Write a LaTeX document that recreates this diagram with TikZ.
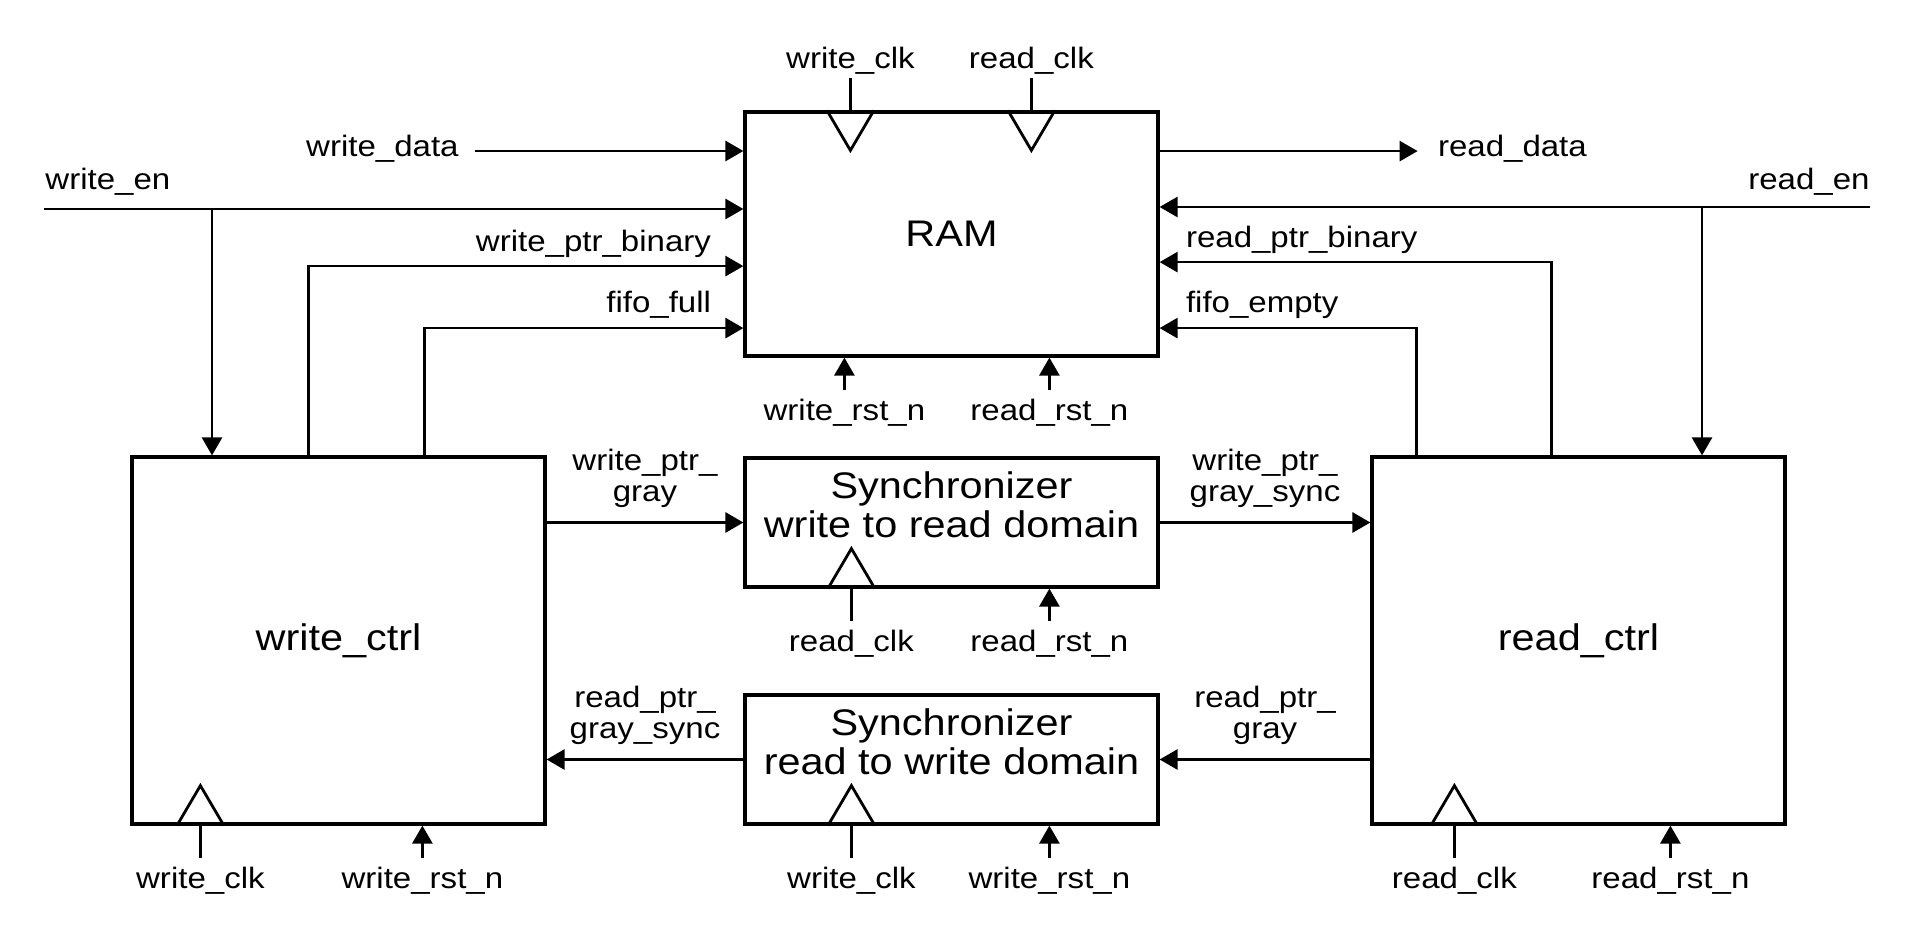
\documentclass[tikz,border=0pt]{standalone}
\usepackage{fontspec}
\setmainfont[FakeStretch=1.12]{Liberation Sans}
\usetikzlibrary{arrows.meta, positioning, calc}
\newcommand{\lblfont}{\fontsize{14.75}{15.5}\selectfont}
\newcommand{\boxfont}{\fontsize{18.5}{19.5}\selectfont}
\tikzset{
  >={Triangle[length=9pt, width=10pt]},
  block/.style   = {draw, line width=1.6pt, minimum width=206.5pt,
                    inner sep=0pt, font=\boxfont},
  boxtext/.style = {font=\boxfont, align=center, inner sep=0pt},
  lbl/.style     = {font=\lblfont, inner sep=0pt},
  lbl2/.style    = {lbl, align=center},
  wire/.style    = {line width=1.4pt},
  arrow/.style   = {->, line width=1.4pt},
  clk/.style     = {line width=1.4pt, line join=miter},
}

\begin{document}
\begin{tikzpicture}[x=0.5pt, y=0.5pt]
  \useasboundingbox (0,0) rectangle (1927,928);

  % =====================================================================
  % blocks
  % =====================================================================
  \node[block, minimum height=122pt]  (ram)   at (951.5,694)   {RAM};
  \node[block, minimum height=64.5pt] (sync1) at (951.5,405.5) {};
  \node[block, minimum height=64.5pt] (sync2) at (951.5,168.5) {};
  \node[block, minimum height=183.5pt] (wctrl) at (338.5,287.5) {write\_ctrl};
  \node[block, minimum height=183.5pt] (rctrl) at (1578.5,287.5) {read\_ctrl};

  \node[boxtext] (sync1txt) at ($(sync1.center)+(0,17.5)$)
    {Synchronizer\\write to read domain};
  \node[boxtext] (sync2txt) at ($(sync2.center)+(0,17.5)$)
    {Synchronizer\\read to write domain};

  % =====================================================================
  % RAM ports
  % =====================================================================
  \coordinate (p_wbin)  at ($(ram.south west)+(0,91.5)$);
  \coordinate (p_ffull) at ($(ram.south west)+(0,29.5)$);
  \coordinate (p_rdata) at ($(ram.south east)+(0,206.5)$);
  \coordinate (p_rbin)  at ($(ram.south east)+(0,95.5)$);
  \coordinate (p_fempt) at ($(ram.south east)+(0,29.5)$);

  % write side inputs
  \coordinate (wdata) at (475,777);
  \draw[arrow] (wdata) -- (wdata -| ram.west);
  \node[lbl, anchor=mid east] (wdatal) at ($(wdata)+(-16,0)$) {write\_data};

  \coordinate (wen)    at (44,719);
  \coordinate (wentap) at (212,719);
  \draw[arrow] (wen) -- (wen -| ram.west);
  \draw[arrow] (wentap) -- (wentap |- wctrl.north);
  \node[lbl, anchor=base west] (wenl) at ($(wen)+(1,19)$) {write\_en};

  \draw[arrow] ($(wctrl.north west)+(178,0)$) |- (p_wbin);
  \draw[arrow] ($(wctrl.north west)+(294,0)$) |- (p_ffull);
  \node[lbl, anchor=base east] (wbinl)  at ($(p_wbin)+(-32,15)$)  {write\_ptr\_binary};
  \node[lbl, anchor=base east] (ffulll) at ($(p_ffull)+(-32,16)$) {fifo\_full};

  % read side
  \draw[arrow] (p_rdata) -- ++(258,0) coordinate (rdata);
  \node[lbl, anchor=mid west] (rdatal) at ($(rdata)+(20,0)$) {read\_data};

  \coordinate (ren)    at (1870,721);
  \coordinate (rentap) at (1702,721);
  \draw[arrow] (ren) -- (ren -| ram.east);
  \draw[arrow] (rentap) -- (rentap |- rctrl.north);
  \node[lbl, anchor=base east] (renl) at ($(ren)+(0,17)$) {read\_en};

  \draw[arrow] ($(rctrl.north west)+(181,0)$) |- (p_rbin);
  \draw[arrow] ($(rctrl.north west)+(46,0)$)  |- (p_fempt);
  \node[lbl, anchor=base west] (rbinl)  at ($(p_rbin)+(26,15)$)  {read\_ptr\_binary};
  \node[lbl, anchor=base west] (femptl) at ($(p_fempt)+(26,16)$) {fifo\_empty};

  % RAM clocks (top) and resets (bottom)
  \foreach \dx/\txt [count=\i] in {107/write\_clk, 288/read\_clk} {
    \coordinate (rck\i) at ($(ram.north west)+(\dx,0)$);
    \draw[clk] ($(rck\i)+(-23.5,0)$) -- ++(23.5,-40) -- ++(23.5,40);
    \draw[wire] (rck\i) -- ++(0,32);
    \node[lbl, anchor=base] (rckl\i) at ($(rck\i)+(0,42)$) {\txt};
  }
  \foreach \dx/\txt [count=\i] in {101/write\_rst\_n, 306/read\_rst\_n} {
    \coordinate (rrs\i) at ($(ram.south west)+(\dx,0)$);
    \draw[arrow] ($(rrs\i)+(0,-32)$) -- (rrs\i);
    \node[lbl, anchor=base] (rrsl\i) at ($(rrs\i)+(0,-63)$) {\txt};
  }

  % =====================================================================
  % pointer crossing between the domains
  % =====================================================================
  \draw[arrow] (sync1.west -| wctrl.east) --
    node[lbl2, above=6.5pt] (wgrayl) {write\_ptr\_\\gray} (sync1.west);
  \draw[arrow] (sync1.east) --
    node[lbl2, above=6.5pt] (wsyncl) {write\_ptr\_\\gray\_sync} (sync1.east -| rctrl.west);
  \draw[arrow] (sync2.east -| rctrl.west) --
    node[lbl2, above=6.5pt] (rgrayl) {read\_ptr\_\\gray} (sync2.east);
  \draw[arrow] (sync2.west) --
    node[lbl2, above=6.5pt] (rsyncl) {read\_ptr\_\\gray\_sync} (sync2.west -| wctrl.east);

  % =====================================================================
  % bottom clock and reset pins
  % =====================================================================
  \foreach \b/\dx/\txt [count=\i] in {sync1/108/read\_clk, sync2/108/write\_clk,
                                      wctrl/70/write\_clk, rctrl/84/read\_clk} {
    \coordinate (ck\i) at ($(\b.south west)+(\dx,0)$);
    \draw[clk] ($(ck\i)+(-23.5,0)$) -- ++(23.5,40) -- ++(23.5,-40);
    \draw[wire] (ck\i) -- ++(0,-32);
    \node[lbl, anchor=base] (ckl\i) at ($(ck\i)+(0,-63)$) {\txt};
  }
  \foreach \b/\dx/\txt [count=\i] in {sync1/306/read\_rst\_n, sync2/306/write\_rst\_n,
                                      wctrl/292/write\_rst\_n, rctrl/300/read\_rst\_n} {
    \coordinate (rs\i) at ($(\b.south west)+(\dx,0)$);
    \draw[arrow] ($(rs\i)+(0,-32)$) -- (rs\i);
    \node[lbl, anchor=base] (rsl\i) at ($(rs\i)+(0,-63)$) {\txt};
  }

\end{tikzpicture}
\end{document}
